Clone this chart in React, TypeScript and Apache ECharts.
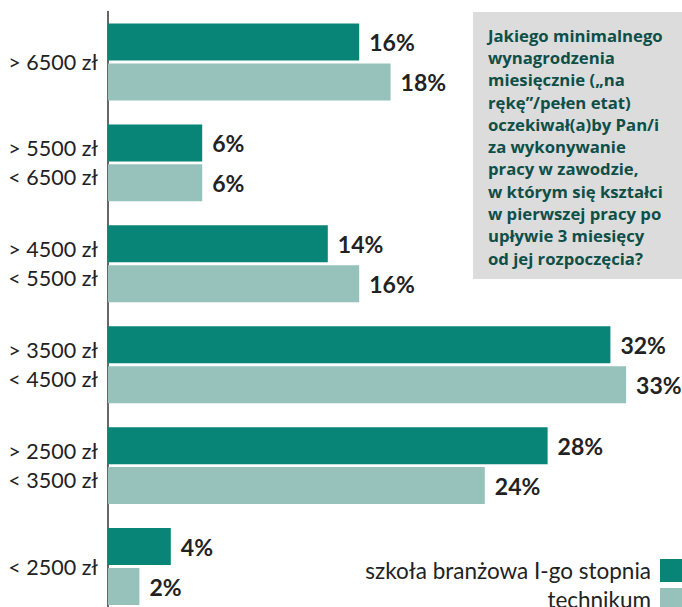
import React, { useEffect, useRef } from "react";
import * as echarts from "echarts";

const categories = [
  "> 6500 zł",
  "> 5500 zł\n< 6500 zł",
  "> 4500 zł\n< 5500 zł",
  "> 3500 zł\n< 4500 zł",
  "> 2500 zł\n< 3500 zł",
  "< 2500 zł",
];
const branzowa = [16, 6, 14, 32, 28, 4];
const technikum = [18, 6, 16, 33, 24, 2];
const seriesNames = ["szkoła branżowa I-go stopnia", "technikum"];
const questionLines = [
  "Jakiego minimalnego",
  "wynagrodzenia",
  "miesięcznie („na",
  "rękę”/pełen etat)",
  "oczekiwał(a)by Pan/i",
  "za wykonywanie",
  "pracy w zawodzie,",
  "w którym się kształci",
  "w pierwszej pracy po",
  "upływie 3 miesięcy",
  "od jej rozpoczęcia?",
];

const FONT = "Lato, 'Noto Sans', sans-serif";
const BOX_FONT = "'Open Sans', 'Noto Sans', sans-serif";
const DARK = "#088577";
const LIGHT = "#96c2bb";

export default function App() {
  const ref = useRef<HTMLDivElement>(null);
  useEffect(() => {
    document.body.style.margin = "0";
    const chart = echarts.init(ref.current!, null, { renderer: "svg" });
    const label = {
      show: true,
      position: "right",
      distance: 10,
      formatter: "{c}%",
      fontFamily: FONT,
      fontWeight: "bold",
      fontSize: 23,
      color: "#222",
    };
    const legendCommon = {
      orient: "vertical",
      right: 0,
      padding: 0,
      align: "right",
      itemWidth: 22,
      itemHeight: 23,
      icon: "rect",
      textStyle: { fontFamily: FONT, fontSize: 22.5, color: "#222", padding: [9, 4, 0, 0] },
    };
    chart.setOption({
      animation: false,
      grid: { left: 108, top: 11.5, right: 0, height: 605.5, containLabel: false },
      xAxis: {
        type: "value",
        min: 0,
        max: 36.56,
        show: false,
      },
      yAxis: {
        type: "category",
        inverse: true,
        data: categories,
        axisLine: { show: true, lineStyle: { color: "#333", width: 1.5 } },
        axisTick: { show: false },
        axisLabel: {
          margin: 10,
          fontFamily: FONT,
          fontSize: 21.5,
          color: "#222",
          lineHeight: 29,
        },
      },
      legend: [
        { ...legendCommon, top: 559, data: [seriesNames[0]] },
        { ...legendCommon, top: 588, data: [seriesNames[1]] },
      ],
      graphic: [
        {
          type: "rect",
          shape: { x: 473, y: 12, width: 209, height: 267 },
          style: { fill: "#dcdcdc" },
          z: 10,
        },
        {
          type: "text",
          x: 488,
          y: 24,
          z: 11,
          style: {
            text: questionLines.join("\n"),
            fontFamily: BOX_FONT,
            fontWeight: "bold",
            fontSize: 16.7,
            lineHeight: 22.3,
            fill: "#0e4f48",
          },
        },
      ],
      series: [
        {
          name: seriesNames[0],
          type: "bar",
          data: branzowa,
          barWidth: 37,
          barGap: "8%",
          itemStyle: { color: DARK },
          label,
        },
        {
          name: seriesNames[1],
          type: "bar",
          data: technikum,
          barWidth: 37,
          barGap: "8%",
          itemStyle: { color: LIGHT },
          label,
        },
      ],
    });
    return () => chart.dispose();
  }, []);
  return (
    <div style={{ width: 682, height: 607, overflow: "hidden" }}>
      <div ref={ref} style={{ width: 682, height: 620 }} />
    </div>
  );
}
